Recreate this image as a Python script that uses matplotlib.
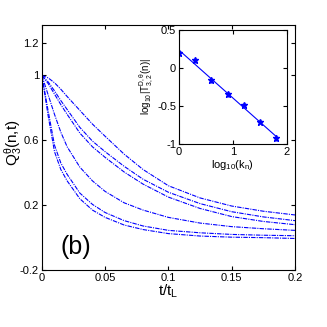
import numpy as np
import matplotlib
matplotlib.use("Agg")
from matplotlib import pyplot as plt

plt.rcParams['font.family'] = ['Liberation Sans', 'DejaVu Sans']
plt.rcParams['axes.unicode_minus'] = False
plt.rcParams['mathtext.fontset'] = 'custom'
plt.rcParams['mathtext.rm'] = 'Liberation Sans'
plt.rcParams['mathtext.it'] = 'Liberation Sans'

# main panel: Q_3^theta(n,t) vs t/t_L, one curve per n
t = [0, 0.005, 0.01, 0.015, 0.02, 0.03, 0.04, 0.05, 0.065, 0.08, 0.1, 0.125, 0.15, 0.175, 0.2]
q_a = [1.0, 0.985, 0.955, 0.915, 0.87, 0.785, 0.70, 0.625, 0.515, 0.42, 0.32, 0.245, 0.195, 0.163, 0.14]
q_b = [1.0, 0.96, 0.905, 0.845, 0.79, 0.68, 0.595, 0.53, 0.44, 0.36, 0.28, 0.21, 0.16, 0.128, 0.105]
q_c = [1.0, 0.95, 0.885, 0.82, 0.76, 0.645, 0.56, 0.495, 0.405, 0.33, 0.25, 0.18, 0.13, 0.10, 0.08]
q_d = [1.0, 0.88, 0.76, 0.65, 0.56, 0.435, 0.35, 0.285, 0.215, 0.17, 0.125, 0.09, 0.068, 0.055, 0.045]
q_e = [1.0, 0.78, 0.57, 0.46, 0.39, 0.275, 0.205, 0.155, 0.105, 0.072, 0.045, 0.03, 0.02, 0.015, 0.012]
q_f = [1.0, 0.75, 0.53, 0.42, 0.35, 0.24, 0.17, 0.125, 0.078, 0.05, 0.025, 0.01, 0.003, 0.0, -0.005]
curves = [q_a, q_b, q_c, q_d, q_e, q_f]

# inset: log10 |T| vs log10 k_n
log_k = [0, 0.301, 0.602, 0.903, 1.204, 1.505, 1.806]
log_t = [0.19, 0.105, -0.165, -0.345, -0.49, -0.715, -0.925]
log_t_err = [0.03, 0.04, 0.04, 0.04, 0.03, 0.03, 0.04]

fig = plt.figure(figsize=(3.27, 3.27), dpi=100)
ax = fig.add_axes([0.128, 0.174, 0.774, 0.749])

for q in curves:
    ax.plot(t, q, color='b', lw=0.8, ls=(0, (4, 1, 1, 1)))

ax.set_xlim(0, 0.2)
ax.set_ylim(-0.2, 1.31)
ax.set_xticks([0, 0.05, 0.1, 0.15, 0.2])
ax.set_xticklabels(['0', '0.05', '0.1', '0.15', '0.2'])
ax.set_yticks([-0.2, 0.2, 0.6, 1, 1.2])
ax.set_yticklabels(['-0.2', '0.2', '0.6', '1', '1.2'])
ax.tick_params(direction='in', top=True, right=True, labelsize=8, length=3, pad=2)
ax.set_xlabel('t/t$_\\mathregular{L}$', fontsize=11, labelpad=0)
ax.set_ylabel('Q$_\\mathregular{3}^{\\mathregular{\\theta}}$(n,t)', fontsize=11)
ax.yaxis.set_label_coords(-0.072, 0.52)
ax.text(0.015, -0.1, '(b)', fontsize=18)

ins = fig.add_axes([0.547, 0.56, 0.33, 0.349])
ins.errorbar(log_k, log_t, yerr=log_t_err, fmt='*', color='b', ms=5, capsize=0, lw=0.8)
fit = np.polyfit(log_k, log_t, 1)
ins.plot(log_k, np.polyval(fit, log_k), color='b', lw=0.8)
ins.set_xlim(0, 2)
ins.set_ylim(-1, 0.5)
ins.set_xticks([0, 1, 2])
ins.set_yticks([-1, -0.5, 0, 0.5])
ins.set_yticklabels(['-1', '-0.5', '0', '0.5'])
ins.tick_params(direction='in', top=True, right=True, labelsize=8, length=3, pad=2)
ins.set_xlabel('log$_\\mathregular{10}$(k$_\\mathregular{n}$)', fontsize=8, labelpad=1)
ins.set_ylabel('log$_\\mathregular{10}$|T$_\\mathregular{3,2}^\\mathregular{D,\\theta}$(n)|', fontsize=7, labelpad=1)

fig.savefig('out.png', dpi=100)
